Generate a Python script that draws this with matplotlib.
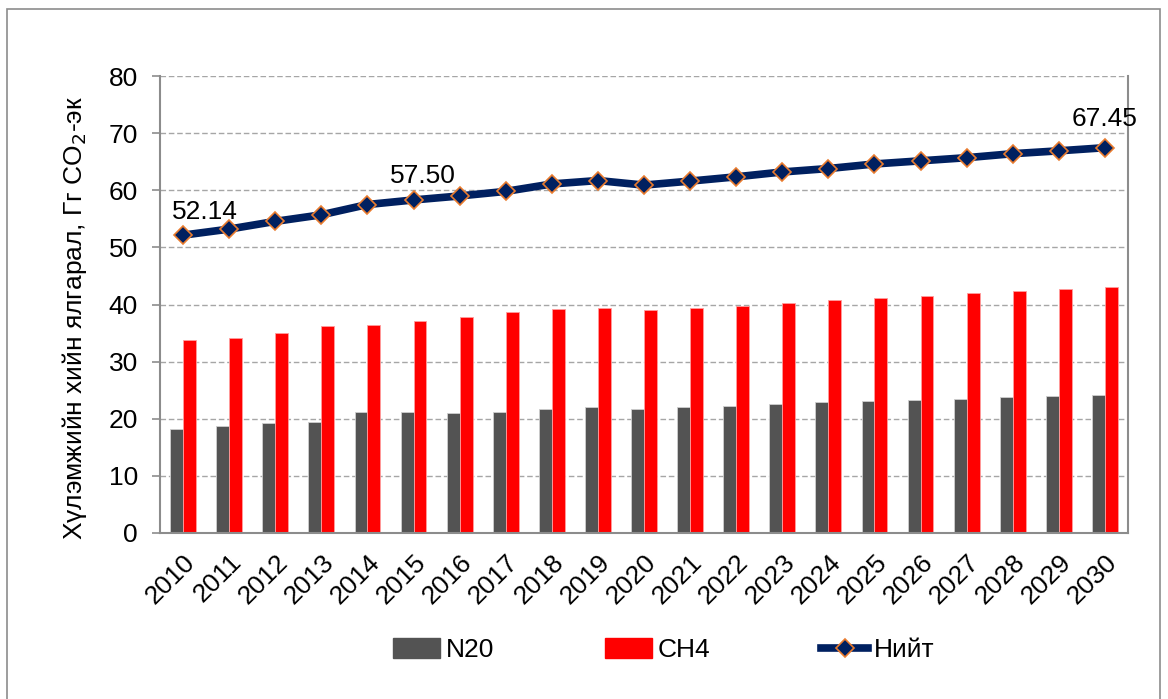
import matplotlib.pyplot as plt
import matplotlib.patches as mpatches
from matplotlib.lines import Line2D
import numpy as np

plt.rcParams['font.family'] = ['Liberation Sans', 'DejaVu Sans']

years = list(range(2010, 2031))
n2o = [18.2, 18.8, 19.3, 19.4, 21.1, 21.1, 20.95, 21.1, 21.65, 22.05, 21.75,
       22.05, 22.3, 22.5, 22.9, 23.05, 23.3, 23.5, 23.75, 24.0, 24.1]
ch4 = [33.8, 34.2, 35.05, 36.15, 36.4, 37.15, 37.85, 38.6, 39.25, 39.35, 38.95,
       39.3, 39.8, 40.35, 40.75, 41.2, 41.55, 41.95, 42.3, 42.8, 43.15]
total = [52.14, 53.2, 54.55, 55.7, 57.50, 58.3, 59.0, 59.8, 61.1, 61.7, 60.9,
         61.6, 62.35, 63.2, 63.8, 64.6, 65.15, 65.7, 66.4, 66.9, 67.45]

navy = '#002060'
orange = '#E97B2E'
dark = '#535353'
red = '#FF0000'
fs = 19

fig = plt.figure(figsize=(11.68, 6.99), dpi=100)
W, H = 1168, 699
ax = fig.add_axes([160 / W, 1 - 533 / H, (1128 - 160) / W, (533 - 76) / H])

# frame around the whole chart
fig.patches.append(mpatches.Rectangle((7 / W, -0.02), (1160 - 7) / W, 1 - 9 / H + 0.02,
                                      transform=fig.transFigure, fill=False,
                                      edgecolor='#8c8c8c', linewidth=1.2))

x = np.arange(len(years))
bw = 0.28
ax.bar(x - bw / 2, n2o, bw, color=dark, edgecolor='#cfcfcf', linewidth=0.6, zorder=2)
ax.bar(x + bw / 2, ch4, bw, color=red, edgecolor='#ff9d9d', linewidth=0.6, zorder=2)
ax.plot(x, total, color=navy, linewidth=5.5, marker='D', markersize=9,
        markerfacecolor=navy, markeredgecolor=orange, markeredgewidth=1.2, zorder=3)

# value labels on the total line
for i, dx, dy in [(0, 16, 8), (4, 40, 12), (20, 0, 12)]:
    ax.annotate(f'{total[i]:.2f}', (x[i], total[i]), xytext=(dx, dy),
                textcoords='offset points', ha='center', va='bottom', fontsize=fs)

ax.set_xlim(-0.5, len(years) - 0.5)
ax.set_ylim(0, 80)
ax.set_yticks(range(0, 81, 10))
ax.set_xticks(x)
ax.set_xticklabels(years, rotation=45, ha='right', va='top', rotation_mode='anchor')
ax.tick_params(axis='x', length=0, pad=12, labelsize=fs)
ax.tick_params(axis='y', length=6, width=1.2, color='#8c8c8c', pad=10, labelsize=fs)
ax.yaxis.grid(True, linestyle=(0, (4, 2)), color='#a6a6a6', linewidth=1, zorder=0)
ax.set_axisbelow(True)
for s in ['left', 'bottom', 'right']:
    ax.spines[s].set_color('#8c8c8c')
    ax.spines[s].set_linewidth(1.5)
ax.spines['top'].set_visible(False)

ax.set_ylabel('Хүлэмжийн хийн ялгарал, Гг CO$_2$-эк', fontsize=fs)
ax.yaxis.set_label_coords(-0.073, 0.47)

handles = [mpatches.Patch(color=dark), mpatches.Patch(color=red),
           Line2D([], [], color=navy, linewidth=5.5, marker='D', markersize=9,
                  markerfacecolor=navy, markeredgecolor=orange, markeredgewidth=1.2)]
fig.legend(handles, ['N20', 'CH4', 'Нийт'], loc='center', bbox_to_anchor=(0.568, 0.07),
           ncol=3, frameon=False, fontsize=fs, handlelength=1.8, handleheight=0.75,
           handletextpad=0.2, columnspacing=4.2)

fig.savefig('out.png', dpi=100)
